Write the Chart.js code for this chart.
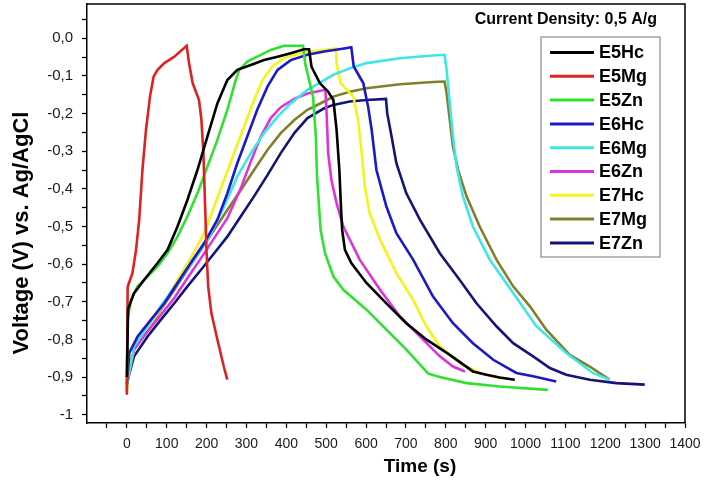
<!DOCTYPE html>
<html>
<head>
<meta charset="utf-8">
<script src="https://cdn.jsdelivr.net/npm/chart.js@4.4.1/dist/chart.umd.min.js"></script>
<style>
    html, body { margin: 0; padding: 0; background: #fff; }
    #gcd_view { display: block; }
</style>
</head>
<body>
<canvas id="gcd_view" width="704" height="481"></canvas>
<script>
// galvanostatic charge / discharge curves, [time (s), voltage (V)]
const E5Hc = [[0, -0.90], [3, -0.72], [18, -0.677], [43, -0.642], [77, -0.597], [102, -0.562], [127, -0.50],
    [152, -0.429], [177, -0.35], [202, -0.261], [227, -0.173], [252, -0.111], [277, -0.084], [311, -0.071],
    [344, -0.058], [378, -0.049], [411, -0.040], [444, -0.029], [457, -0.029], [463, -0.075], [484, -0.119],
    [505, -0.142], [518, -0.164], [526, -0.243], [533, -0.35], [537, -0.447], [540, -0.509], [547, -0.562],
    [563, -0.597], [601, -0.65], [651, -0.704], [701, -0.757], [751, -0.80], [810, -0.841], [868, -0.885],
    [902, -0.894], [935, -0.901], [973, -0.907]];
const E5Mg = [[0, -0.947], [2, -0.66], [14, -0.624], [23, -0.562], [31, -0.482], [39, -0.35], [48, -0.243],
    [58, -0.155], [67, -0.102], [77, -0.084], [94, -0.066], [119, -0.049], [150, -0.020], [156, -0.066],
    [165, -0.119], [181, -0.164], [187, -0.217], [192, -0.305], [196, -0.438], [200, -0.571], [204, -0.66],
    [212, -0.73], [227, -0.80], [244, -0.876], [252, -0.907]];
const E5Zn = [[0, -0.94], [2, -0.748], [10, -0.695], [27, -0.659], [52, -0.633], [77, -0.606], [102, -0.571],
    [127, -0.527], [152, -0.473], [177, -0.412], [202, -0.341], [227, -0.27], [252, -0.19], [273, -0.111],
    [282, -0.084], [302, -0.062], [336, -0.044], [361, -0.031], [394, -0.020], [442, -0.020], [447, -0.066],
    [467, -0.155], [474, -0.261], [477, -0.367], [482, -0.447], [486, -0.509], [497, -0.571], [518, -0.633],
    [543, -0.668], [601, -0.721], [651, -0.774], [701, -0.827], [756, -0.891], [785, -0.90], [852, -0.916],
    [935, -0.925], [1056, -0.934]];
const E6Hc = [[0, -0.92], [6, -0.836], [27, -0.792], [60, -0.748], [94, -0.704], [127, -0.65], [160, -0.597],
    [194, -0.544], [227, -0.482], [252, -0.412], [277, -0.332], [302, -0.261], [327, -0.19], [353, -0.128],
    [378, -0.084], [411, -0.058], [453, -0.044], [495, -0.035], [545, -0.027], [563, -0.024], [569, -0.075],
    [593, -0.119], [605, -0.181], [614, -0.243], [626, -0.35], [651, -0.447], [676, -0.518], [718, -0.588],
    [768, -0.686], [818, -0.757], [868, -0.81], [919, -0.854], [977, -0.889], [1019, -0.898], [1077, -0.912]];
const E6Mg = [[0, -0.92], [18, -0.819], [52, -0.765], [85, -0.712], [127, -0.65], [169, -0.588], [211, -0.518],
    [244, -0.447], [277, -0.367], [311, -0.305], [344, -0.252], [378, -0.208], [411, -0.173], [453, -0.137],
    [495, -0.111], [518, -0.097], [559, -0.080], [601, -0.066], [685, -0.053], [768, -0.046], [797, -0.044],
    [802, -0.084], [810, -0.173], [818, -0.261], [827, -0.341], [843, -0.42], [868, -0.50], [910, -0.588],
    [969, -0.677], [1027, -0.765], [1102, -0.836], [1169, -0.889], [1211, -0.907]];
const E6Zn = [[0, -0.92], [18, -0.827], [52, -0.779], [85, -0.735], [119, -0.69], [152, -0.637], [186, -0.584],
    [219, -0.531], [252, -0.478], [286, -0.398], [311, -0.327], [336, -0.261], [361, -0.212], [386, -0.183],
    [420, -0.161], [453, -0.147], [498, -0.137], [501, -0.199], [505, -0.305], [513, -0.376], [526, -0.438],
    [543, -0.50], [584, -0.588], [635, -0.668], [685, -0.739], [735, -0.792], [785, -0.845], [818, -0.872],
    [848, -0.885]];
const E7Hc = [[0, -0.935], [6, -0.863], [27, -0.81], [60, -0.757], [94, -0.704], [127, -0.642], [160, -0.584],
    [194, -0.518], [219, -0.447], [244, -0.376], [269, -0.305], [294, -0.235], [319, -0.164], [340, -0.111],
    [365, -0.075], [394, -0.053], [436, -0.040], [478, -0.033], [524, -0.027], [526, -0.066], [536, -0.119],
    [568, -0.155], [580, -0.217], [589, -0.305], [597, -0.394], [609, -0.465], [635, -0.535], [676, -0.624],
    [718, -0.695], [751, -0.765], [785, -0.819], [835, -0.863], [885, -0.889], [939, -0.903]];
const E7Mg = [[0, -0.92], [18, -0.827], [52, -0.774], [85, -0.721], [119, -0.668], [152, -0.615], [186, -0.562],
    [219, -0.509], [252, -0.456], [286, -0.403], [319, -0.35], [353, -0.296], [386, -0.252], [420, -0.217],
    [453, -0.19], [495, -0.168], [518, -0.155], [559, -0.142], [601, -0.133], [685, -0.122], [768, -0.116],
    [797, -0.115], [802, -0.146], [810, -0.217], [818, -0.288], [831, -0.35], [852, -0.42], [885, -0.50],
    [927, -0.588], [969, -0.659], [1011, -0.712], [1052, -0.774], [1111, -0.841], [1161, -0.872], [1211, -0.907]];
const E7Zn = [[0, -0.915], [18, -0.845], [52, -0.792], [85, -0.748], [119, -0.704], [152, -0.659], [186, -0.615],
    [219, -0.571], [252, -0.527], [286, -0.473], [319, -0.42], [353, -0.363], [386, -0.305], [420, -0.252],
    [453, -0.212], [495, -0.186], [518, -0.177], [559, -0.168], [601, -0.164], [650, -0.161], [653, -0.199],
    [664, -0.261], [676, -0.332], [701, -0.412], [735, -0.482], [785, -0.571], [835, -0.642], [877, -0.704],
    [927, -0.765], [969, -0.81], [1019, -0.845], [1061, -0.876], [1102, -0.894], [1161, -0.907], [1228, -0.916],
    [1299, -0.92]];

const series_names = ['E5Hc', 'E5Mg', 'E5Zn', 'E6Hc', 'E6Mg', 'E6Zn', 'E7Hc', 'E7Mg', 'E7Zn'];
const series_data = [E5Hc, E5Mg, E5Zn, E6Hc, E6Mg, E6Zn, E7Hc, E7Mg, E7Zn];
const series_colors = ['#000000', '#dd2222', '#2fe22f', '#1a1ac8', '#3fe6e6', '#dd33dd', '#f4f41c', '#807f2a', '#141478'];

// axis ticks every 50 s / 0.05 V, labels on every second one
const x_ticks = [-50, 0, 50, 100, 150, 200, 250, 300, 350, 400, 450, 500, 550, 600, 650, 700, 750,
    800, 850, 900, 950, 1000, 1050, 1100, 1150, 1200, 1250, 1300, 1350, 1400];
const y_ticks = [-1, -0.95, -0.9, -0.85, -0.8, -0.75, -0.7, -0.65, -0.6, -0.55, -0.5, -0.45, -0.4, -0.35,
    -0.3, -0.25, -0.2, -0.15, -0.1, -0.05, 0, 0.05];

const annotation_text = 'Current Density: 0,5 A/g';
const x_title = 'Time (s)';
const y_title = 'Voltage (V) vs. Ag/AgCl';

const font_family = '"Liberation Sans", Arial, sans-serif';

function is_major(value, step) {
    const n = value / step;
    return Math.abs(n - Math.round(n)) < 1e-6 && Math.round(n) % 2 === 0;
}

// keep the plot area fixed, labels may hang over the edges
function drop_padding(scale) {
    scale.paddingLeft = 0;
    scale.paddingRight = 0;
    scale.paddingTop = 0;
    scale.paddingBottom = 0;
}

/**
 * Draws the closing frame, the annotation, both axis titles and the legend box
 */
const decorations = {
    id: 'decorations',
    afterDraw(chart) {
        const ctx = chart.ctx;
        const area = chart.chartArea;
        ctx.save();

        // top and right side of the plot frame
        ctx.strokeStyle = '#000';
        ctx.lineWidth = 1.5;
        ctx.beginPath();
        ctx.moveTo(area.left, area.top);
        ctx.lineTo(area.right, area.top);
        ctx.lineTo(area.right, area.bottom);
        ctx.stroke();

        ctx.fillStyle = '#000';
        ctx.textBaseline = 'middle';

        ctx.font = `bold 16px ${font_family}`;
        ctx.textAlign = 'right';
        ctx.fillText(annotation_text, 657, 20);

        ctx.font = `bold 19px ${font_family}`;
        ctx.textAlign = 'center';
        ctx.fillText(x_title, 420, 467);

        ctx.save();
        ctx.translate(22, 233);
        ctx.rotate(-Math.PI / 2);
        ctx.font = `bold 22px ${font_family}`;
        ctx.fillText(y_title, 0, 0);
        ctx.restore();

        // legend
        const box_left = 541, box_top = 37, box_width = 119, box_height = 220;
        ctx.strokeStyle = '#8a8a8a';
        ctx.lineWidth = 1.2;
        ctx.fillStyle = '#fff';
        ctx.fillRect(box_left, box_top, box_width, box_height);
        ctx.strokeRect(box_left, box_top, box_width, box_height);

        ctx.font = `bold 18px ${font_family}`;
        ctx.textAlign = 'left';
        chart.data.datasets.forEach((ds, i) => {
            const y = 52.5 + i * 23.8;
            ctx.strokeStyle = ds.borderColor;
            ctx.lineWidth = 3;
            ctx.beginPath();
            ctx.moveTo(550, y);
            ctx.lineTo(594, y);
            ctx.stroke();
            ctx.fillStyle = '#000';
            ctx.fillText(ds.label, 599, y + 1);
        });

        ctx.restore();
    }
};

const gcd_canvas = document.getElementById('gcd_view');

const gcd_chart = new Chart(gcd_canvas, {
    type: 'line',
    data: {
        datasets: series_names.map((name, i) => ({
            label: name,
            data: series_data[i].map(p => ({ x: p[0], y: p[1] })),
            borderColor: series_colors[i],
            borderWidth: 2.6,
            pointRadius: 0,
            fill: false,
            tension: 0
        }))
    },
    options: {
        responsive: false,
        animation: false,
        devicePixelRatio: 1,
        layout: {
            padding: { top: 4, right: 19, left: 0, bottom: 0 }
        },
        scales: {
            x: {
                type: 'linear',
                min: -100,
                max: 1400,
                afterFit: (scale) => { scale.height = 58; drop_padding(scale); },
                afterBuildTicks: (scale) => { scale.ticks = x_ticks.map(v => ({ value: v })); },
                border: { display: true, color: '#000', width: 1.5 },
                grid: { drawOnChartArea: false, drawTicks: true, tickLength: 5, tickColor: '#000', tickWidth: 1.3 },
                ticks: {
                    autoSkip: false,
                    maxRotation: 0,
                    padding: 8,
                    color: '#1a1a1a',
                    font: { family: font_family, size: 14 },
                    callback: (value) => (is_major(value, 50) && value >= 0 ? String(value) : '')
                }
            },
            y: {
                type: 'linear',
                min: -1.022,
                max: 0.091,
                afterFit: (scale) => { scale.width = 87; drop_padding(scale); },
                afterBuildTicks: (scale) => { scale.ticks = y_ticks.map(v => ({ value: v })); },
                border: { display: true, color: '#000', width: 1.5 },
                grid: { drawOnChartArea: false, drawTicks: true, tickLength: 5, tickColor: '#000', tickWidth: 1.3 },
                ticks: {
                    autoSkip: false,
                    padding: 9,
                    color: '#1a1a1a',
                    font: { family: font_family, size: 15 },
                    callback: (value) => {
                        if (!is_major(value, 0.05)) {
                            return '';
                        }
                        if (Math.abs(value + 1) < 1e-6) {
                            return '-1';
                        }
                        return (Math.abs(value) < 1e-6 ? 0 : value).toFixed(1).replace('.', ',');
                    }
                }
            }
        },
        plugins: {
            legend: { display: false },
            tooltip: { enabled: false }
        }
    },
    plugins: [decorations]
});
</script>
</body>
</html>
